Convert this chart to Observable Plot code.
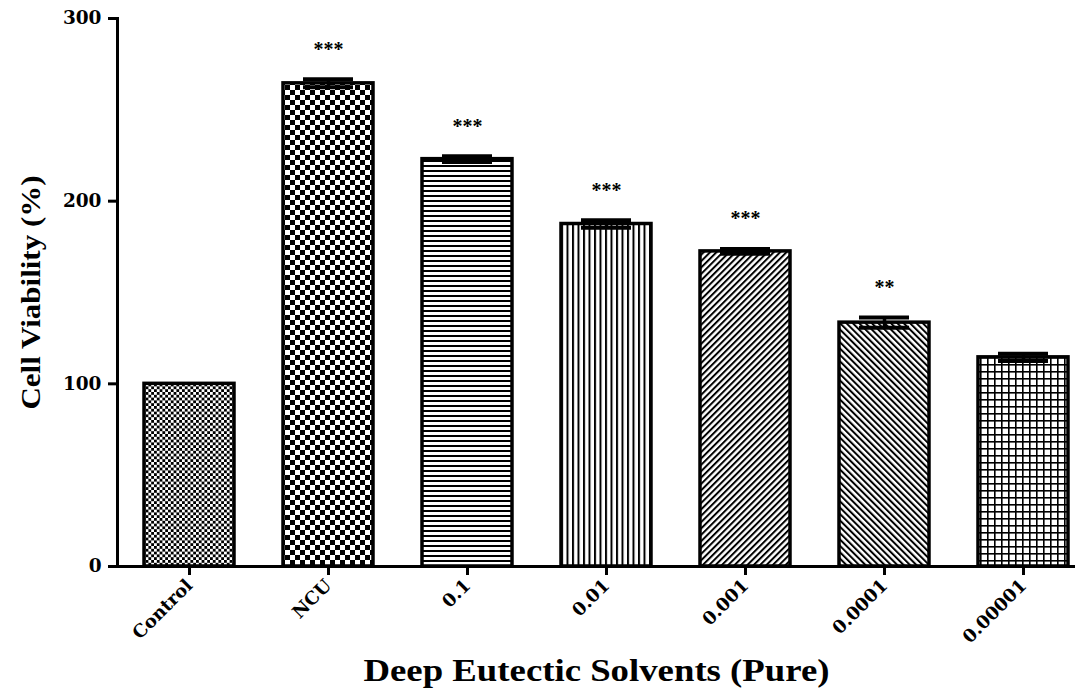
<!DOCTYPE html>
<html>
<head>
<meta charset="utf-8">
<script src="https://cdn.jsdelivr.net/npm/d3@7"></script>
<script src="https://cdn.jsdelivr.net/npm/@observablehq/plot@0.6"></script>
<style>
  html, body { margin: 0; padding: 0; background: #fff; }
  #chart { width: 1084px; height: 700px; }
</style>
</head>
<body>
<div id="chart"></div>
<script>
const categories = ["Control", "NCU", "0.1", "0.01", "0.001", "0.0001", "0.00001"];
const means = [100, 264.5, 223, 187.5, 172.5, 133.5, 114.5];
const errors = [0, 2.2, 1.6, 2.0, 1.3, 2.8, 2.0];
const stars = ["", "***", "***", "***", "***", "**", ""];
const patterns = ["checkFine", "checkCoarse", "hlines", "vlines", "diagUp", "diagDown", "grid"];
const yTicks = [0, 100, 200, 300];
const yTitle = "Cell Viability (%)";
const xTitle = "Deep Eutectic Solvents (Pure)";

const data = categories.map((c, i) => ({
  cat: c, mean: means[i], err: errors[i], star: stars[i], pat: patterns[i]
}));

const serif = "'Liberation Serif', 'DejaVu Serif', serif";
const wide = "'DejaVu Serif', 'Liberation Serif', serif";

const chart = Plot.plot({
  width: 1084,
  height: 700,
  marginLeft: 117,
  marginRight: 9,
  marginTop: 18,
  marginBottom: 134,
  style: { fontFamily: serif, fontWeight: "bold", fontSize: "17px", color: "#000", background: "#fff" },
  x: { domain: categories, paddingInner: 0.35, paddingOuter: 0.1, align: 0.8, label: null },
  y: { domain: [0, 300], label: null },
  marks: [
    Plot.barY(data, {
      x: "cat", y: "mean",
      fill: d => `url(#${d.pat})`,
      stroke: "#000", strokeWidth: 3.5
    }),
    Plot.ruleX(data.filter(d => d.err > 0), {
      x: "cat", y1: d => d.mean - d.err, y2: d => d.mean + d.err,
      stroke: "#000", strokeWidth: 3.5
    }),
    Plot.tickY(data.filter(d => d.err > 0), {
      x: "cat", y: d => d.mean + d.err, stroke: "#000", strokeWidth: 4,
      insetLeft: 20, insetRight: 20
    }),
    Plot.tickY(data.filter(d => d.err > 0), {
      x: "cat", y: d => d.mean - d.err, stroke: "#000", strokeWidth: 4,
      insetLeft: 20, insetRight: 20
    }),
    Plot.text(data.filter(d => d.star), {
      x: "cat", y: d => d.mean + d.err, text: "star", dy: -30,
      fontSize: 20, fontWeight: "bold", fill: "#000", fontFamily: serif
    }),
    Plot.axisY({
      ticks: yTicks, tickSize: 9, tickPadding: 7, strokeWidth: 3, label: null,
      fontSize: 18.5, fontWeight: "bold", fontFamily: wide
    }),
    Plot.axisX({
      tickSize: 9, tickPadding: 7, strokeWidth: 3, tickRotate: -45, label: null,
      fontSize: 18, fontWeight: "bold", fontFamily: wide
    }),
    Plot.frame({ anchor: "left", stroke: "#000", strokeWidth: 3 }),
    Plot.ruleY([0], { stroke: "#000", strokeWidth: 3 }),
    Plot.text([yTitle], {
      frameAnchor: "left", dx: -86, rotate: -90, textAnchor: "middle",
      fontSize: 28, fontWeight: "bold", fill: "#000", fontFamily: serif
    }),
    Plot.text([xTitle], {
      frameAnchor: "bottom", dy: 114, textAnchor: "middle",
      fontSize: 32, fontWeight: "bold", fill: "#000", fontFamily: serif
    })
  ]
});

// Pattern definitions
const ns = "http://www.w3.org/2000/svg";
const defs = document.createElementNS(ns, "defs");
function pattern(id, w, h, build, transform) {
  const p = document.createElementNS(ns, "pattern");
  p.setAttribute("id", id);
  p.setAttribute("patternUnits", "userSpaceOnUse");
  p.setAttribute("width", w);
  p.setAttribute("height", h);
  if (transform) p.setAttribute("patternTransform", transform);
  const bg = document.createElementNS(ns, "rect");
  bg.setAttribute("width", w); bg.setAttribute("height", h); bg.setAttribute("fill", "#fff");
  p.appendChild(bg);
  build(p);
  defs.appendChild(p);
}
function rect(p, x, y, w, h) {
  const r = document.createElementNS(ns, "rect");
  r.setAttribute("x", x); r.setAttribute("y", y);
  r.setAttribute("width", w); r.setAttribute("height", h);
  r.setAttribute("fill", "#000");
  p.appendChild(r);
}
pattern("checkFine", 5.6, 5.6, p => { rect(p, 0, 0, 2.8, 2.8); rect(p, 2.8, 2.8, 2.8, 2.8); });
pattern("checkCoarse", 10, 10, p => { rect(p, 0, 0, 5, 5); rect(p, 5, 5, 5, 5); });
pattern("hlines", 10, 5, p => { rect(p, 0, 0, 10, 2); });
pattern("vlines", 5.5, 10, p => { rect(p, 0, 0, 2, 10); });
pattern("diagUp", 4.5, 10, p => { rect(p, 0, 0, 2, 10); }, "rotate(45)");
pattern("diagDown", 4.5, 10, p => { rect(p, 0, 0, 2, 10); }, "rotate(-45)");
pattern("grid", 7, 7, p => { rect(p, 0, 0, 7, 1.6); rect(p, 0, 0, 1.6, 7); });
chart.insertBefore(defs, chart.firstChild);

// Stretch titles horizontally to match the wide original lettering
chart.querySelectorAll("text").forEach(t => {
  if (t.textContent === yTitle) { t.setAttribute("textLength", 234); t.setAttribute("lengthAdjust", "spacingAndGlyphs"); }
  if (t.textContent === xTitle) { t.setAttribute("textLength", 466); t.setAttribute("lengthAdjust", "spacingAndGlyphs"); }
});

document.getElementById("chart").appendChild(chart);
</script>
</body>
</html>
